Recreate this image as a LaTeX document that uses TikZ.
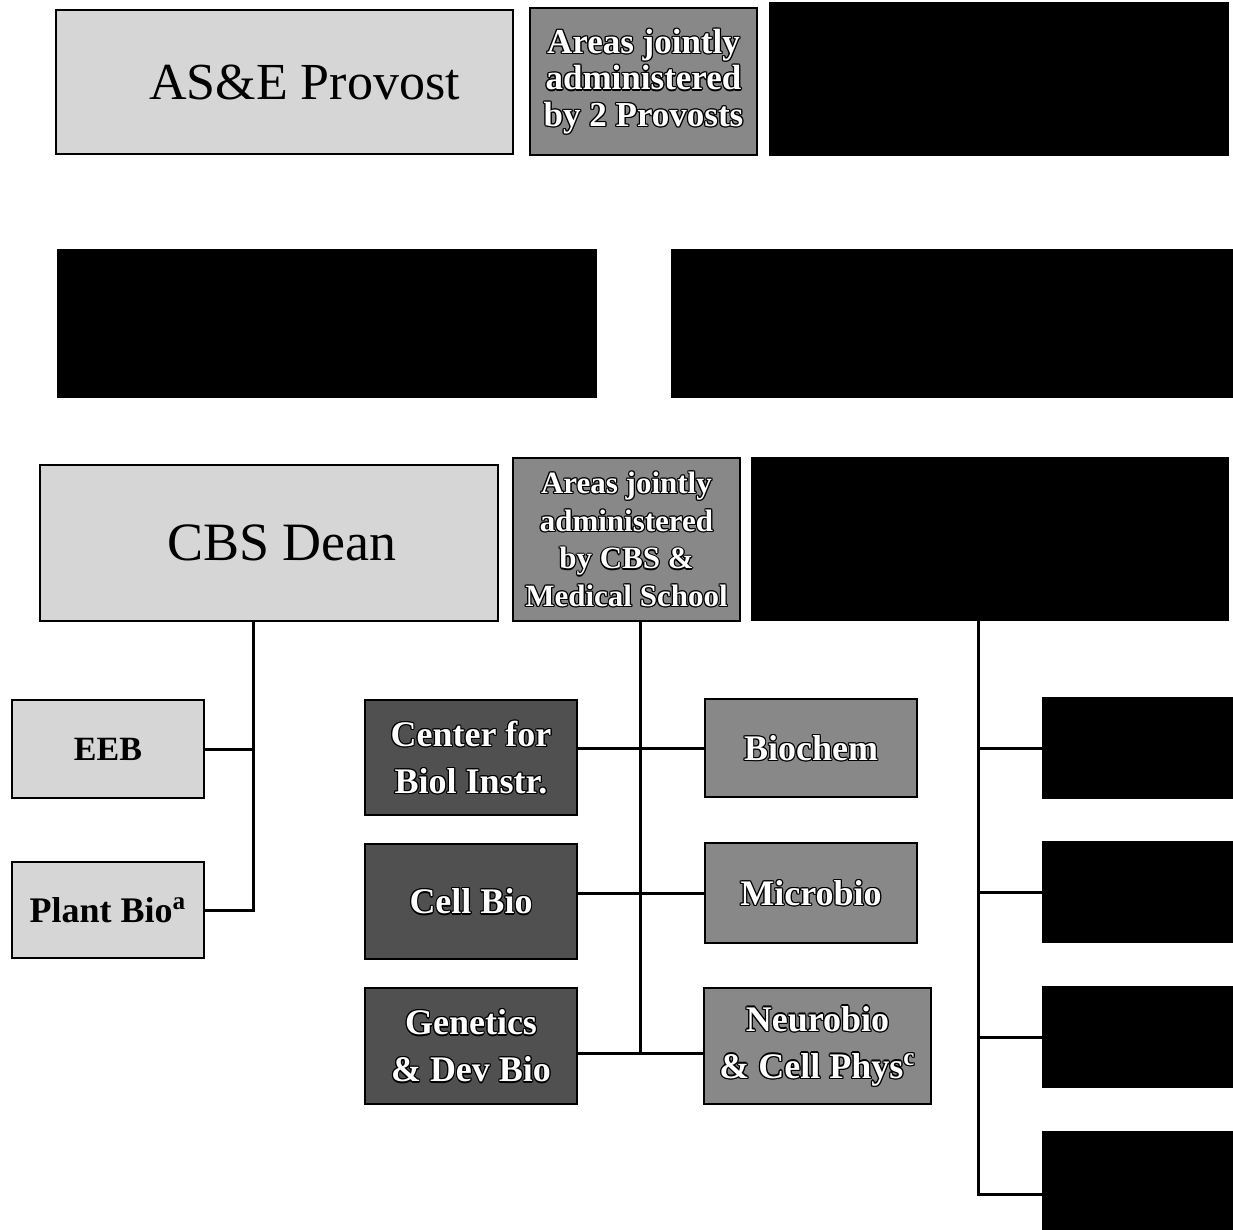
\documentclass[tikz,border=0pt]{standalone}
\usepackage{fontspec}
\setmainfont{Liberation Serif}
\definecolor{lightbox}{HTML}{D6D6D6}
\definecolor{midbox}{HTML}{888888}
\definecolor{darkbox}{HTML}{505050}
\newcommand{\olt}[1]{{\setbox0=\hbox{#1}%
\leavevmode
\rlap{\color{black}\kern-.6pt\copy0}%
\rlap{\color{black}\kern.6pt\copy0}%
\rlap{\color{black}\raise.6pt\copy0}%
\rlap{\color{black}\lower.6pt\copy0}%
\rlap{\color{black}\kern-.45pt\raise.45pt\copy0}%
\rlap{\color{black}\kern.45pt\raise.45pt\copy0}%
\rlap{\color{black}\kern-.45pt\lower.45pt\copy0}%
\rlap{\color{black}\kern.45pt\lower.45pt\copy0}%
{\color{white}\copy0}}}
\tikzset{
  box/.style={draw=black, line width=1.3pt, inner sep=0pt, align=center},
  lightb/.style={box, fill=lightbox},
  midb/.style={box, fill=midbox},
  darkb/.style={box, fill=darkbox},
  blackb/.style={box, fill=black},
  conn/.style={draw=black, line width=1.5pt},
  wh/.style 2 args={minimum width=#1, minimum height=#2}
}
\begin{document}
\begin{tikzpicture}[x=0.5pt, y=-0.5pt]
\useasboundingbox (0,0) rectangle (1233,1230);
\fill[white] (0,0) rectangle (1233,1230);

% top row
\node[lightb, wh={228.5pt}{72pt}, font=\fontsize{26}{30}\selectfont] (prov) at (284.5,82) {\hspace*{20pt}AS\&E Provost};
\node[midb, wh={113.5pt}{73.5pt}, font=\fontsize{17.5}{18.3}\selectfont\bfseries] (j1) at (643.5,81.5)
  {\olt{Areas jointly}\\\olt{administered}\\\olt{by 2 Provosts}};
\node[blackb, wh={229pt}{76pt}] (b1) at (999,79) {};

% second row
\node[blackb, wh={269pt}{73.5pt}] (b2) at (327,323.5) {};
\node[blackb, wh={280pt}{73.5pt}] (b3) at (952,323.5) {};

% third row
\node[lightb, wh={229pt}{78pt}, font=\fontsize{27}{32}\selectfont] (dean) at (269,543) {\hspace*{13pt}CBS Dean};
\node[midb, wh={113.5pt}{81.5pt}, font=\fontsize{15.5}{18.8}\selectfont\bfseries] (j2) at (626.5,539.5)
  {\olt{Areas jointly}\\\olt{administered}\\\olt{by CBS \&}\\\olt{Medical School}};
\node[blackb, wh={238pt}{81pt}] (b4) at (990,539) {};

% CBS departments
\node[lightb, wh={96pt}{49pt}, font=\fontsize{17}{20}\selectfont\bfseries] (eeb) at (108,749) {EEB};
\node[lightb, wh={96pt}{48pt}, font=\fontsize{18}{21}\selectfont\bfseries] (plant) at (108,910) {Plant Bio\textsuperscript{a}};

% jointly administered departments
\node[darkb, wh={106pt}{57.5pt}, font=\fontsize{18}{23.5}\selectfont\bfseries] (cbi) at (471,757.5)
  {\olt{Center for}\\\olt{Biol Instr.}};
\node[darkb, wh={106pt}{57.5pt}, font=\fontsize{18}{23.5}\selectfont\bfseries] (cell) at (471,901.5)
  {\olt{Cell Bio}};
\node[darkb, wh={106pt}{58pt}, font=\fontsize{18}{23.5}\selectfont\bfseries] (gen) at (471,1046)
  {\olt{Genetics}\\\olt{\& Dev Bio}};
\node[midb, wh={106pt}{49pt}, font=\fontsize{18}{23.5}\selectfont\bfseries] (bio) at (811,748)
  {\olt{Biochem}};
\node[midb, wh={106pt}{50pt}, font=\fontsize{18}{23.5}\selectfont\bfseries] (micro) at (811,893)
  {\olt{Microbio}};
\node[midb, wh={113.5pt}{58pt}, font=\fontsize{18}{23.5}\selectfont\bfseries] (neuro) at (817.5,1046)
  {\olt{Neurobio}\\\olt{\& Cell Phys\textsuperscript{c}}};

% right column
\node[blackb, wh={95pt}{50pt}] (r1) at (1138,748) {};
\node[blackb, wh={95pt}{50pt}] (r2) at (1138,892) {};
\node[blackb, wh={95pt}{50pt}] (r3) at (1138,1037) {};
\node[blackb, wh={95pt}{49pt}] (r4) at (1138,1181) {};

% connectors: CBS Dean
\coordinate (dv) at (253,908);
\draw[conn] (dean.south -| dv) |- (plant.east);
\draw[conn] (eeb.east) -- (eeb.east -| dv);

% connectors: joint area
\coordinate (mv) at (640,1053);
\draw[conn] (j2.south -| mv) -- (mv);
\draw[conn] (cbi.east |- bio.west) -- (bio.west);
\draw[conn] (cell.east |- micro.west) -- (micro.west);
\draw[conn] (gen.east |- mv) -- (neuro.west |- mv);

% connectors: right
\coordinate (rv) at (978,1194);
\draw[conn] (b4.south -| rv) -- (rv) -- (r4.west |- rv);
\draw[conn] (r1.west) -- (r1.west -| rv);
\draw[conn] (r2.west) -- (r2.west -| rv);
\draw[conn] (r3.west) -- (r3.west -| rv);
\end{tikzpicture}
\end{document}
